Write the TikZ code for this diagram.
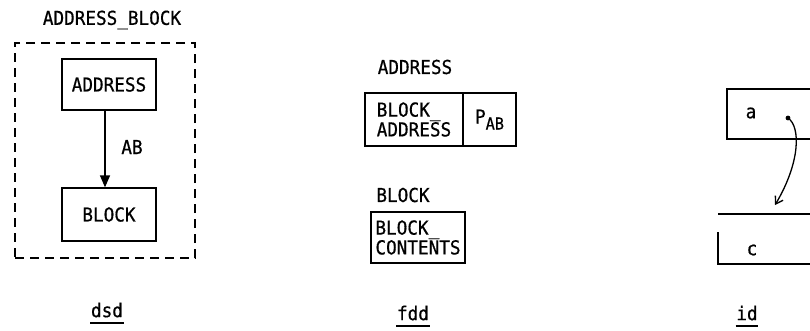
\documentclass[tikz,border=0pt]{standalone}
\usepackage{fontspec}
\setmainfont[FakeStretch=0.92,FakeBold=0.6]{DejaVu Sans Mono}
\usetikzlibrary{arrows.meta}
\begin{document}
\begin{tikzpicture}[x=1pt,y=-1pt,
  font=\fontsize{19.2}{18.5}\selectfont,
  line width=1.3pt,
  box/.style={draw, rectangle, inner sep=0pt},
  lbl/.style={inner sep=0pt},
  frame/.style={draw, rectangle, inner sep=0pt, dash pattern=on 9pt off 6pt},
  ul/.style={line width=1.3pt}]
\useasboundingbox (0,0) rectangle (810,330);
% ---------------- dsd ----------------
\node[lbl] (title) at (112,20) {ADDRESS\_BLOCK};
\node[frame, minimum width=180pt, minimum height=215pt] (fr) at (105,150.5) {};
\node[box, minimum width=94pt, minimum height=51pt] (addr) at (109,84.5) {ADDRESS};
\node[box, minimum width=94pt, minimum height=53pt] (blk) at (109,214.5) {BLOCK};
\draw[-{Triangle[length=12pt,width=10pt]}] ([xshift=-4pt]addr.south) -- ([xshift=-4pt]blk.north);
\node[lbl] (ab) at (132,147) {AB};
\node[lbl] (dsd) at (107,310) {dsd};
\draw[ul] ([yshift=-5pt]dsd.south west) -- ([yshift=-5pt]dsd.south east);
% ---------------- fdd ----------------
\node[lbl] (fA) at (415,67) {ADDRESS};
\node[box, minimum width=98pt, minimum height=53pt, align=left] (fL) at (414,119.5) {BLOCK\_\\ADDRESS};
\node[box, minimum width=53pt, minimum height=53pt] (fR) at (489.5,119.5) {P\raisebox{-6pt}{\fontsize{16.5}{16.5}\selectfont AB}};
\node[lbl] (fB) at (403,195) {BLOCK};
\node[box, minimum width=94pt, minimum height=51pt, align=left] (fC) at (418,237.5) {BLOCK\_\\CONTENTS};
\node[lbl] (fdd) at (413,313) {fdd};
\draw[ul] ([yshift=-5pt]fdd.south west) -- ([yshift=-5pt]fdd.south east);
% ---------------- id ----------------
\coordinate (aR1) at (810,89);
\coordinate (aL2) at (727,139);
\coordinate (aR2) at (810,139);
\draw (aR1) -| (aL2) -- (aR2);
\node[lbl] (a) at (751,113) {a};
\coordinate (dot) at (788,118);
\fill (dot) circle (2.4pt);
\coordinate (tip) at (775,205);
\draw[-{Straight Barb[length=7pt,width=9pt]}] (dot) .. controls (801,127) and (800,163) .. (tip);
\coordinate (cL1) at (718,214);
\coordinate (cR1) at (810,214);
\draw (cL1) -- (cR1);
\coordinate (cL2) at (718,232);
\coordinate (cR2) at (810,264);
\draw (cL2) |- (cR2);
\node[lbl] (c) at (752,250) {c};
\node[lbl] (id) at (747,313) {id};
\draw[ul] ([yshift=-5pt]id.south west) -- ([yshift=-5pt]id.south east);
\end{tikzpicture}
\end{document}
